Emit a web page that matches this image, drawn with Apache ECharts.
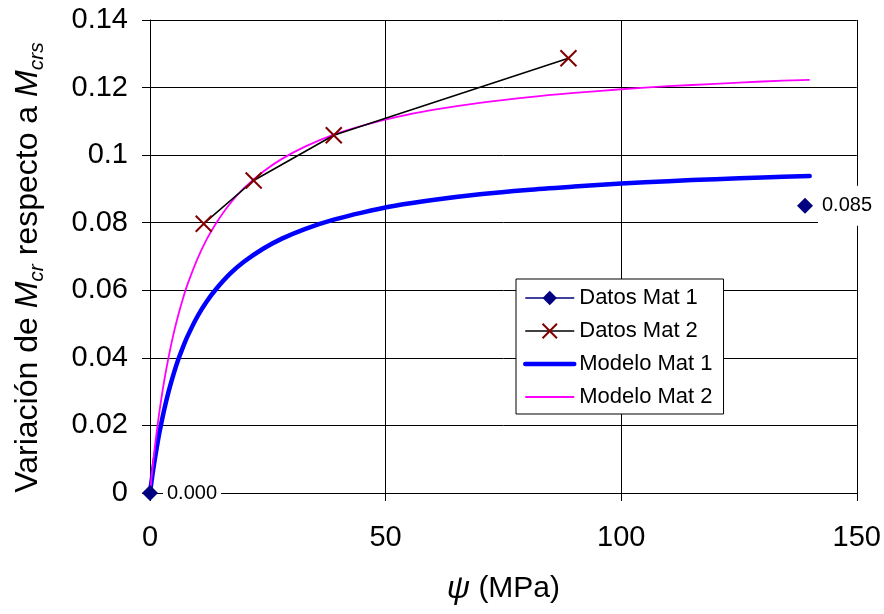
<!DOCTYPE html>
<html>
<head>
<meta charset="utf-8">
<script src="https://cdn.jsdelivr.net/npm/echarts@6/dist/echarts.min.js"></script>
<style>html,body{margin:0;padding:0;background:#fff;}#c{width:884px;height:614px;}</style>
</head>
<body>
<div id="c"></div>
<script>
// ---- data ----
const xTicks = [0, 50, 100, 150];
const yTicks = [0, 0.02, 0.04, 0.06, 0.08, 0.1, 0.12, 0.14];

const datos1X = [0, 139];
const datos1Y = [0, 0.085];

const datos2X = [11.4, 22, 39, 88.8];
const datos2Y = [0.0797, 0.0925, 0.1059, 0.1287];

const modeloX  = [0, 0.5, 1, 1.5, 2, 3, 4, 5, 6, 7, 8, 10, 12, 14, 17, 20, 24, 28, 33, 39, 45, 52, 60, 70, 80, 90, 100, 110, 120, 130, 140];
const modelo1Y = [0, 0.0052, 0.0098, 0.0140, 0.0179, 0.0246, 0.0303, 0.0352, 0.0395, 0.0432, 0.0465, 0.0521, 0.0566, 0.0603, 0.0649, 0.0685, 0.0723, 0.0753, 0.0782, 0.0809, 0.0830, 0.0850, 0.0867, 0.0884, 0.0897, 0.0907, 0.0916, 0.0923, 0.0929, 0.0934, 0.0938];
const modelo2Y = [0, 0.0070, 0.0133, 0.0189, 0.0241, 0.0331, 0.0406, 0.0471, 0.0527, 0.0576, 0.0619, 0.0691, 0.0750, 0.0798, 0.0857, 0.0903, 0.0951, 0.0989, 0.1026, 0.1061, 0.1087, 0.1112, 0.1134, 0.1155, 0.1171, 0.1184, 0.1195, 0.1204, 0.1211, 0.1218, 0.1223];

const names = ['Datos Mat 1', 'Datos Mat 2', 'Modelo Mat 1', 'Modelo Mat 2'];

const zip = (xs, ys) => xs.map((x, i) => [x, ys[i]]);
const FONT = '"Liberation Sans", Arial, sans-serif';
const X_PATH = 'path://M0,0L10,10M10,0L0,10';

const chart = echarts.init(document.getElementById('c'), null, {renderer: 'canvas'});
chart.setOption({
  animation: false,
  backgroundColor: '#fff',
  textStyle: {fontFamily: FONT, color: '#000'},
  grid: {left: 150, right: 27, top: 20, bottom: 121, containLabel: false},
  xAxis: {
    type: 'value', min: xTicks[0], max: xTicks[xTicks.length - 1], interval: 50,
    axisLine: {show: true, onZero: false, lineStyle: {color: '#000', width: 1}},
    axisTick: {show: true, inside: false, length: 8, lineStyle: {color: '#000'}},
    axisLabel: {fontSize: 29, color: '#000', margin: 30, fontFamily: FONT},
    splitLine: {show: true, lineStyle: {color: '#000', width: 1}},
    name: '{i|ψ} (MPa)',
    nameLocation: 'middle', nameGap: 80,
    nameTextStyle: {fontSize: 30, color: '#000', fontFamily: FONT,
      rich: {i: {fontSize: 32, fontStyle: 'italic', fontFamily: FONT}}}
  },
  yAxis: {
    type: 'value', min: yTicks[0], max: yTicks[yTicks.length - 1], interval: 0.02,
    axisLine: {show: true, onZero: false, lineStyle: {color: '#000', width: 1}},
    axisTick: {show: true, inside: false, length: 8, lineStyle: {color: '#000'}},
    axisLabel: {fontSize: 29, color: '#000', margin: 22, fontFamily: FONT},
    splitLine: {show: true, lineStyle: {color: '#000', width: 1}},
    name: 'Variación de {i|M}{s|cr} respecto a {i|M}{s|crs}',
    nameLocation: 'middle', nameGap: 102, nameRotate: 90,
    nameTextStyle: {fontSize: 32, color: '#000', fontFamily: FONT, lineHeight: 40,
      padding: [0, 22, 0, 0],
      rich: {
        i: {fontSize: 32, fontStyle: 'italic', fontFamily: FONT, lineHeight: 40},
        s: {fontSize: 21, fontStyle: 'italic', fontFamily: FONT, lineHeight: 23, verticalAlign: 'bottom'}
      }}
  },
  legend: {
    show: true, orient: 'vertical', left: 516, top: 279,
    backgroundColor: '#fff', borderColor: '#000', borderWidth: 1,
    padding: [8, 11, 6, 7],
    itemWidth: 49, itemHeight: 18, itemGap: 11,
    textStyle: {fontSize: 22, color: '#000', fontFamily: FONT},
    data: [
      {name: names[0], lineStyle: {color: '#000080', width: 1.5, opacity: 1}},
      {name: names[1], lineStyle: {color: '#000', width: 1.6}},
      {name: names[2], itemStyle: {opacity: 0}, lineStyle: {color: '#0000FF', width: 4.5}},
      {name: names[3], itemStyle: {opacity: 0}, lineStyle: {color: '#FF00FF', width: 1.8}}
    ]
  },
  series: [
    {
      name: names[2], type: 'line', data: zip(modeloX, modelo1Y),
      showSymbol: false, symbol: 'none', smooth: 0.3,
      lineStyle: {color: '#0000FF', width: 4.5, cap: 'round'},
      itemStyle: {color: '#0000FF'}, z: 2
    },
    {
      name: names[3], type: 'line', data: zip(modeloX, modelo2Y),
      showSymbol: false, symbol: 'none', smooth: 0.3,
      lineStyle: {color: '#FF00FF', width: 1.8},
      itemStyle: {color: '#FF00FF'}, z: 3
    },
    {
      name: names[1], type: 'line', data: zip(datos2X, datos2Y),
      symbol: X_PATH, symbolSize: 16,
      lineStyle: {color: '#000', width: 1.6},
      itemStyle: {color: '#800000', borderColor: '#800000', borderWidth: 2},
      z: 4
    },
    {
      name: names[0], type: 'line', data: zip(datos1X, datos1Y),
      symbol: 'diamond', symbolSize: 16,
      lineStyle: {color: '#000080', width: 1.5, opacity: 0},
      itemStyle: {color: '#000080'},
      label: {
        show: true, position: 'right', distance: 5,
        formatter: p => p.value[1].toFixed(3),
        fontSize: 20, color: '#000', fontFamily: FONT,
        backgroundColor: '#fff', padding: [10, 4, 10, 4]
      },
      z: 5
    }
  ]
});
</script>
</body>
</html>
